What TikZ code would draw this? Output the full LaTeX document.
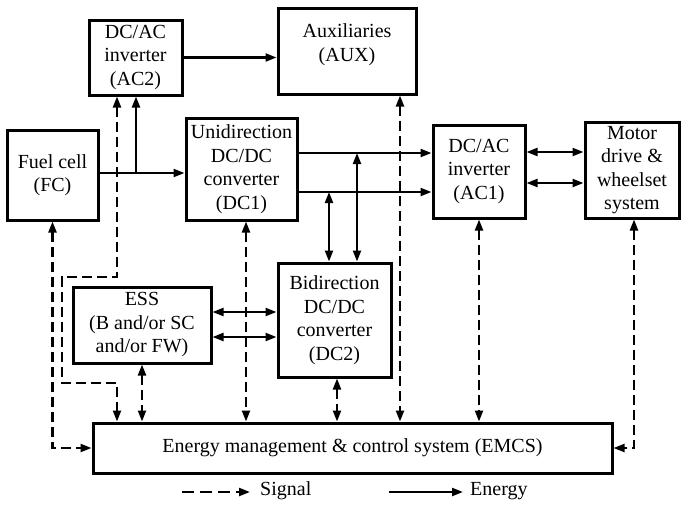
\documentclass[tikz,border=0pt]{standalone}
\usepackage{fontspec}
\setmainfont{Liberation Serif}
\usetikzlibrary{arrows.meta}
\begin{document}
\begin{tikzpicture}[x=1pt,y=-1pt,
  box/.style={draw,line width=3pt,rectangle,inner sep=0pt,align=center,
    font=\fontsize{20}{23.5}\selectfont},
  en/.style={line width=2.2pt,-{Triangle[length=11pt,width=8pt]}},
  en2/.style={line width=2.2pt,{Triangle[length=11pt,width=8pt]}-{Triangle[length=11pt,width=8pt]}},
  sg2/.style={line width=2.2pt,dash pattern=on 10pt off 5pt,{Triangle[length=11pt,width=8pt]}-{Triangle[length=11pt,width=8pt]}},
  sg/.style={line width=2.2pt,dash pattern=on 12pt off 6pt,-{Triangle[length=11pt,width=8pt]}},
  lab/.style={font=\fontsize{20}{23.5}\selectfont,inner sep=0pt}]
\useasboundingbox (0,0) rectangle (685,506);
% boxes
\node[box,minimum width=93pt,minimum height=75pt] (ac2) at (135.5,57.5) {DC/AC\\inverter\\(AC2)};
\node[box,minimum width=138pt,minimum height=86pt,
  label={[lab,align=center,anchor=north,yshift=-17pt]north:Auxiliaries\\(AUX)}] (aux) at (347,51) {};
\node[box,minimum width=91pt,minimum height=90pt] (fc) at (52.5,175) {Fuel cell\\(FC)};
\node[box,minimum width=111pt,minimum height=102pt] (dc1) at (241.5,169) {Unidirection\\DC/DC\\converter\\(DC1)};
\node[box,minimum width=92pt,minimum height=93pt] (ac1) at (479,171.5) {DC/AC\\inverter\\(AC1)};
\node[box,minimum width=94pt,minimum height=96pt] (mot) at (632,170) {Motor\\drive \&\\wheelset\\system};
\node[box,minimum width=138pt,minimum height=76pt] (ess) at (142,325) {ESS\\(B and/or SC\\and/or FW)};
\node[box,minimum width=113pt,minimum height=114pt] (dc2) at (334.5,320) {Bidirection\\DC/DC\\converter\\(DC2)};
\node[box,minimum width=519pt,minimum height=50pt] (emcs) at (352.5,448) {Energy management \& control system (EMCS)};
% energy connectors
\coordinate (j1) at (136,173);
\draw[en] (fc.east |- 0,173) -- (dc1.west |- 0,173);
\draw[en] (j1) -- (ac2.south -| j1);
\draw[en] (ac2.east) -- (aux.west |- ac2.east);
\draw[en] (dc1.east |- 0,153) -- (ac1.west |- 0,153);
\draw[en] (dc1.east |- 0,192) -- (ac1.west |- 0,192);
\coordinate (v1) at (329,192);
\coordinate (v2) at (357,153);
\draw[en2] (v1) -- (dc2.north -| v1);
\draw[en2] (v2) -- (dc2.north -| v2);
\draw[en2] (ac1.east |- 0,152) -- (mot.west |- 0,152);
\draw[en2] (ac1.east |- 0,183) -- (mot.west |- 0,183);
\draw[en2] (ess.east |- 0,312) -- (dc2.west |- 0,312);
\draw[en2] (ess.east |- 0,337) -- (dc2.west |- 0,337);
% signal connectors
\draw[sg2] (fc.south) |- (emcs.west);
\draw[sg2] (ac2.south -| 117,0) -- (117,277) -- (62,277) -- (62,383) -- (117,383) -- (emcs.north -| 117,0);
\draw[sg2] (ess.south) -- (emcs.north -| ess.south);
\draw[sg2] (dc1.south -| 246,0) -- (emcs.north -| 246,0);
\draw[sg2] (dc2.south -| 337,0) -- (emcs.north -| 337,0);
\draw[sg2] (aux.south -| 400,0) -- (emcs.north -| 400,0);
\draw[sg2] (ac1.south) -- (emcs.north -| ac1.south);
\draw[sg2] (mot.south -| 634,0) |- (emcs.east);
% legend
\node[lab,anchor=west] (sig) at (260,491) {Signal};
\node[lab,anchor=west] (ene) at (470,491) {Energy};
\coordinate (s0) at (182,492);
\coordinate (s1) at (250,492);
\coordinate (e0) at (389,492);
\coordinate (e1) at (463,492);
\draw[sg] (s0) -- (s1);
\draw[en] (e0) -- (e1);
\end{tikzpicture}
\end{document}
